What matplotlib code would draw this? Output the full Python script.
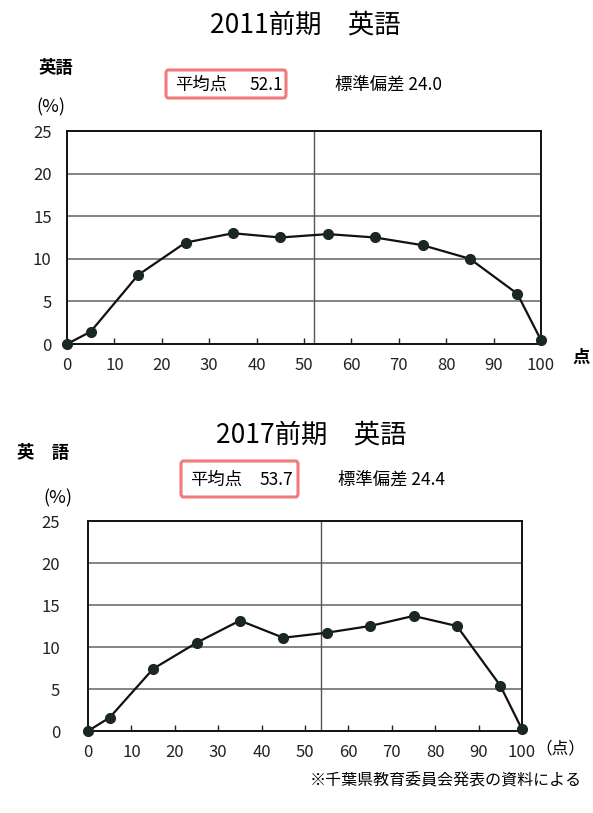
import matplotlib
matplotlib.use("Agg")
import matplotlib.pyplot as plt
from matplotlib.patches import FancyBboxPatch

plt.rcParams['font.family'] = ['Noto Sans CJK JP', 'DejaVu Sans']

# Score bands (points) and share of examinees (%)
scores = [0, 5, 15, 25, 35, 45, 55, 65, 75, 85, 95, 100]
pct_2011 = [0.0, 1.45, 8.1, 11.9, 13.0, 12.5, 12.9, 12.5, 11.6, 10.0, 5.9, 0.45]
pct_2017 = [0.0, 1.6, 7.4, 10.5, 13.15, 11.1, 11.7, 12.5, 13.7, 12.5, 5.4, 0.2]

mean_2011, sd_2011 = 52.1, 24.0
mean_2017, sd_2017 = 53.7, 24.4

x_ticks = list(range(0, 101, 10))
y_ticks = [0, 5, 10, 15, 20, 25]

W, H = 593, 813
fig = plt.figure(figsize=(W / 100, H / 100), dpi=100)
fig.patch.set_facecolor('white')


def fx(px):
    return px / W


def fy(py):
    return 1 - py / H


def add_panel(left, right, top, bottom, values, mean, ypad):
    ax = fig.add_axes([fx(left), fy(bottom), fx(right - left), (bottom - top) / H])
    ax.set_xlim(0, 100)
    ax.set_ylim(0, 25)
    ax.set_xticks(x_ticks)
    ax.set_yticks(y_ticks)
    ax.tick_params(axis='x', direction='in', length=4, width=1, pad=9,
                   labelsize=12, colors='#222222')
    ax.tick_params(axis='y', length=0, pad=ypad, labelsize=12, colors='#222222')
    for y in y_ticks[1:-1]:
        ax.axhline(y, color='#7a7a7a', lw=1.3, zorder=1)
    ax.axvline(mean, color='#555555', lw=1.0, zorder=1)
    for s in ax.spines.values():
        s.set_color('#111111')
        s.set_linewidth(1.4)
    ax.plot(scores, values, color='#111111', lw=1.6, marker='o', ms=7,
            mfc='#1b2725', mec='#1b2725', clip_on=False, zorder=3)
    return ax


def stat_box(x0, y0, x1, y1):
    box = FancyBboxPatch((fx(x0), fy(y1)), fx(x1 - x0), (y1 - y0) / H,
                         boxstyle="round,pad=0,rounding_size=0.004",
                         transform=fig.transFigure, fc='white',
                         ec='#f27a7a', lw=2.2, zorder=0)
    fig.add_artist(box)


# 2011 panel
fig.text(fx(305), fy(25), '2011前期\u3000英語', ha='center', va='center', fontsize=19)
fig.text(fx(56), fy(68), '英語', ha='center', va='center', fontsize=12.5, fontweight='bold')
stat_box(166, 70, 286, 98)
fig.text(fx(175), fy(85), '平均点', ha='left', va='center', fontsize=12.5)
fig.text(fx(283), fy(85), f'{mean_2011:.1f}', ha='right', va='center', fontsize=12.5)
fig.text(fx(335), fy(85), f'標準偏差 {sd_2011:.1f}', ha='left', va='center', fontsize=12.5)
fig.text(fx(51), fy(107), '(%)', ha='center', va='center', fontsize=13)
add_panel(67, 541, 131, 344, pct_2011, mean_2011, ypad=11)
fig.text(fx(581), fy(358), '点', ha='center', va='center', fontsize=12.5, fontweight='bold')

# 2017 panel
fig.text(fx(311), fy(435), '2017前期\u3000英語', ha='center', va='center', fontsize=19)
fig.text(fx(43), fy(453), '英\u3000語', ha='center', va='center', fontsize=12.5, fontweight='bold')
stat_box(181, 461, 298, 497)
fig.text(fx(190), fy(480), '平均点', ha='left', va='center', fontsize=12.5)
fig.text(fx(293), fy(480), f'{mean_2017:.1f}', ha='right', va='center', fontsize=12.5)
fig.text(fx(338), fy(480), f'標準偏差 {sd_2017:.1f}', ha='left', va='center', fontsize=12.5)
fig.text(fx(58), fy(498), '(%)', ha='center', va='center', fontsize=13)
add_panel(88, 522, 521, 731, pct_2017, mean_2017, ypad=20)
fig.text(fx(535), fy(749), '（点）', ha='left', va='center', fontsize=12)

fig.text(fx(582), fy(781), '※千葉県教育委員会発表の資料による', ha='right', va='center',
         fontsize=11.5)

fig.savefig('out.png', dpi=100, facecolor='white')
